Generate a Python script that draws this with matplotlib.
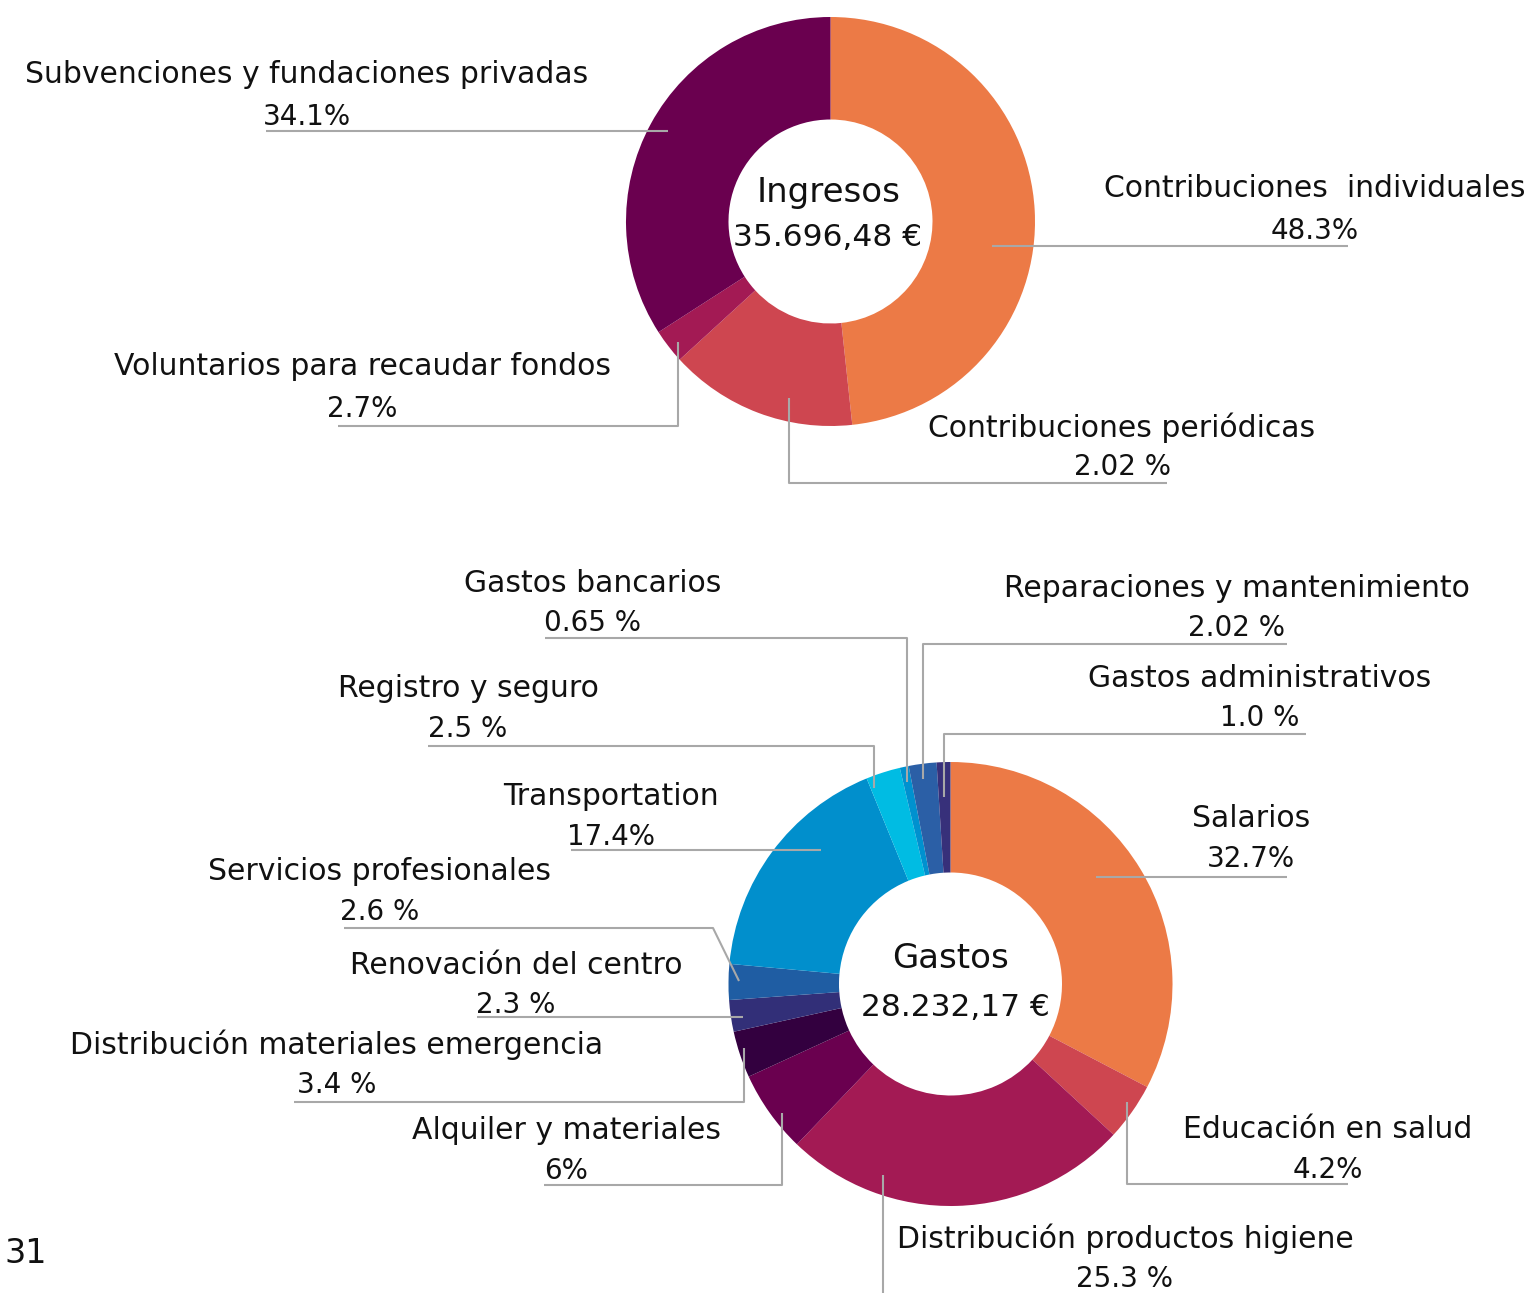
import matplotlib
matplotlib.use("Agg")
import matplotlib.pyplot as plt

# ---------------- data ----------------
ing_labels = ["Contribuciones  individuales", "Contribuciones periódicas",
              "Voluntarios para recaudar fondos", "Subvenciones y fundaciones privadas"]
ing_pct_text = ["48.3%", "2.02 %", "2.7%", "34.1%"]
ing_values = [48.3, 14.9, 2.7, 34.1]   # slice sizes as drawn
ing_colors = ["#EC7A46", "#CE4650", "#A31A54", "#6A004F"]
ing_total = "35.696,48 €"

gas_labels = ["Salarios", "Educación en salud", "Distribución productos higiene",
              "Alquiler y materiales", "Distribución materiales emergencia",
              "Renovación del centro", "Servicios profesionales", "Transportation",
              "Registro y seguro", "Gastos bancarios", "Reparaciones y mantenimiento",
              "Gastos administrativos"]
gas_pct_text = ["32.7%", "4.2%", "25.3 %", "6%", "3.4 %", "2.3 %", "2.6 %", "17.4%",
                "2.5 %", "0.65 %", "2.02 %", "1.0 %"]
gas_values = [32.7, 4.2, 25.3, 6.0, 3.4, 2.3, 2.6, 17.4, 2.5, 0.65, 2.02, 1.0]
gas_colors = ["#EC7A46", "#CE4650", "#A31A54", "#6A004F", "#33003F", "#322F78",
              "#1F5DA3", "#018FCC", "#00BCE3", "#0091CF", "#2B5FA6", "#37307A"]
gas_total = "28.232,17 €"

# ---------------- figure ----------------
W, H = 1537, 1293
fig = plt.figure(figsize=(W / 100, H / 100), dpi=100)
ax = fig.add_axes([0, 0, 1, 1])

FONT = "DejaVu Sans"
FS = 21.5
FS_PCT = 20
TXT = "#111111"
LC = "#A8A8A8"
LW = 1.5

def donut(values, colors, center, r_out, r_in):
    # y axis is inverted (pixel coordinates), so start at -90 and run
    # counter-clockwise in data space = clockwise from the top on screen
    ax.pie(values, colors=colors, startangle=-90, counterclock=True,
           center=center, radius=r_out, frame=True,
           wedgeprops=dict(width=r_out - r_in, linewidth=0))

donut(ing_values, ing_colors, (830.5, 221.5), 204.5, 102)
donut(gas_values, gas_colors, (950.5, 984), 222, 111.5)
ax.set_xlim(0, W)
ax.set_ylim(H, 0)
ax.set_aspect("equal")
ax.axis("off")

def label(name, pct, cx, y1, y2):
    ax.text(cx, y1, name, ha="center", va="baseline", fontsize=FS, family=FONT, color=TXT)
    ax.text(cx, y2, pct, ha="center", va="baseline", fontsize=FS_PCT, family=FONT, color=TXT)

def leader(xs, ys):
    ax.plot(xs, ys, color=LC, lw=LW, solid_capstyle="butt", zorder=5)

# center texts
ax.text(829, 202, "Ingresos", ha="center", va="baseline", fontsize=24.5, family=FONT, color=TXT)
ax.text(828, 246, ing_total, ha="center", va="baseline", fontsize=22.5, family=FONT, color=TXT)
ax.text(951, 968, "Gastos", ha="center", va="baseline", fontsize=24.5, family=FONT, color=TXT)
ax.text(955, 1016, gas_total, ha="center", va="baseline", fontsize=22.5, family=FONT, color=TXT)

# top donut labels
label(ing_labels[3], ing_pct_text[3], 307, 83, 125)
leader([266, 668], [131, 131])
label(ing_labels[0], ing_pct_text[0], 1315, 197, 239)
leader([992, 1348], [246, 246])
label(ing_labels[2], ing_pct_text[2], 362, 375, 417)
leader([678, 678, 338], [342, 426, 426])
label(ing_labels[1], ing_pct_text[1], 1122, 437, 475)
leader([789, 789, 1167], [398, 483, 483])

# bottom donut labels
label(gas_labels[9], gas_pct_text[9], 593, 592, 631)
leader([545, 907, 907], [638, 638, 782])
label(gas_labels[10], gas_pct_text[10], 1237, 597, 636)
leader([923, 923, 1287], [779, 644, 644])
label(gas_labels[11], gas_pct_text[11], 1260, 687, 726)
leader([944, 944, 1306], [797, 734, 734])
label(gas_labels[8], gas_pct_text[8], 468, 697, 737)
leader([428, 874, 874], [746, 746, 788])
label(gas_labels[7], gas_pct_text[7], 611, 805, 845)
leader([571, 821], [850, 850])
label(gas_labels[0], gas_pct_text[0], 1251, 827, 867)
leader([1096, 1287], [877, 877])
label(gas_labels[6], gas_pct_text[6], 380, 880, 920)
leader([344, 713, 739], [928, 928, 981])
label(gas_labels[5], gas_pct_text[5], 516, 974, 1013)
leader([477, 743], [1017, 1017])
label(gas_labels[4], gas_pct_text[4], 337, 1054, 1093)
leader([294, 744, 744], [1102, 1102, 1048])
label(gas_labels[3], gas_pct_text[3], 566, 1139, 1179)
leader([544, 782, 782], [1185, 1185, 1113])
label(gas_labels[1], gas_pct_text[1], 1328, 1138, 1178)
leader([1127, 1127, 1348], [1102, 1184, 1184])
label(gas_labels[2], gas_pct_text[2], 1125, 1248, 1287)
leader([883, 883], [1175, 1293])

ax.text(4, 1263, "31", ha="left", va="baseline", fontsize=24, family=FONT, color=TXT)

fig.savefig("out.png", dpi=100)
